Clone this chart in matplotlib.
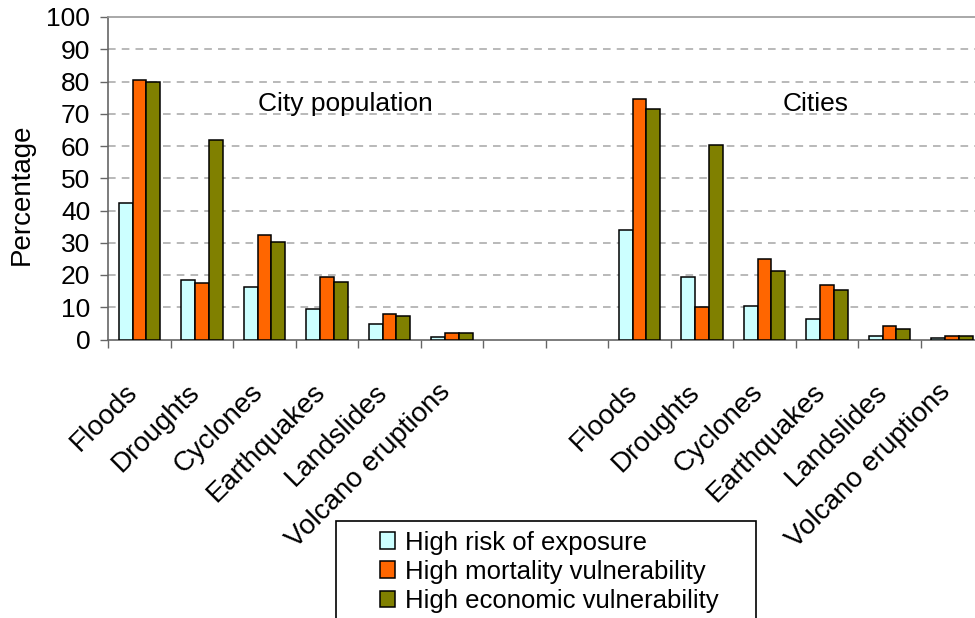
import matplotlib
matplotlib.use("Agg")
import matplotlib.pyplot as plt
from matplotlib.patches import Rectangle
from matplotlib.transforms import ScaledTranslation
import numpy as np

plt.rcParams['font.family'] = ['Liberation Sans', 'DejaVu Sans']

hazards = ["Floods", "Droughts", "Cyclones", "Earthquakes", "Landslides", "Volcano eruptions"]
series_names = ["High risk of exposure", "High mortality vulnerability", "High economic vulnerability"]

# City population (%)
pop_exposure = [42.3, 18.5, 16.3, 9.5, 4.7, 0.9]
pop_mortality = [80.5, 17.4, 32.3, 19.5, 7.9, 2.1]
pop_economic = [80.0, 62.0, 30.1, 17.9, 7.4, 2.1]

# Cities (%)
city_exposure = [33.8, 19.5, 10.5, 6.4, 1.0, 0.5]
city_mortality = [74.7, 10.0, 24.9, 16.8, 4.1, 1.0]
city_economic = [71.6, 60.4, 21.2, 15.4, 3.2, 1.0]

colors = ["#CCFFFF", "#FF6600", "#808000"]

W, H = 975, 618
fig = plt.figure(figsize=(W / 100, H / 100), dpi=100)
ax = fig.add_axes([108.3 / W, (H - 339.5) / H, 875 / W, (339.5 - 17) / H])

n_gap = 2
pos_pop = np.arange(len(hazards))
pos_city = np.arange(len(hazards)) + len(hazards) + n_gap
bw = 0.222

pop_series = [pop_exposure, pop_mortality, pop_economic]
city_series = [city_exposure, city_mortality, city_economic]
for k in range(3):
    off = (k - 1) * bw
    ax.bar(pos_pop + off, pop_series[k], width=bw, color=colors[k],
           edgecolor="black", linewidth=1.1, label=series_names[k], zorder=3)
    ax.bar(pos_city + off, city_series[k], width=bw, color=colors[k],
           edgecolor="black", linewidth=1.1, zorder=3)

n_slots = 2 * len(hazards) + n_gap
ax.set_xlim(-0.5, n_slots - 0.5)
ax.set_ylim(0, 100)

# Category boundary ticks, labels at category centres
ax.set_xticks(np.arange(n_slots + 1) - 0.5)
ax.set_xticklabels([])
ax.tick_params(axis="x", which="major", direction="out", length=6, width=1, color="#666666")
ax.set_xticks(np.concatenate([pos_pop, pos_city]), minor=True)
ax.set_xticklabels(hazards + hazards, minor=True, rotation=45, ha="right",
                   va="center", rotation_mode="anchor", fontsize=20)
ax.tick_params(axis="x", which="minor", length=0, pad=35)
shift = ScaledTranslation(-6 / 100, 0, fig.dpi_scale_trans)
for lbl in ax.get_xticklabels(minor=True):
    lbl.set_transform(lbl.get_transform() + shift)

ax.set_yticks(np.arange(0, 101, 10))
ax.tick_params(axis="y", direction="out", length=6, width=1, color="#666666",
               labelsize=19, pad=7)

for y in range(10, 100, 10):
    ax.axhline(y, color="#A6A6A6", linestyle=(0, (5, 4)), linewidth=1.1, zorder=1)

for side in ["left", "bottom", "top"]:
    ax.spines[side].set_color("#666666")
    ax.spines[side].set_linewidth(1.2)
ax.spines["top"].set_color("#999999")
ax.spines["right"].set_visible(False)

fig.text(22 / W, (H - 194) / H, "Percentage", fontsize=20, rotation=90,
         ha="center", va="center")

ax.text(3.30, 73, "City population", fontsize=19, ha="center", va="center", zorder=4)
ax.text(10.815, 73, "Cities", fontsize=19, ha="center", va="center", zorder=4)

# Legend frame and entries
fig.patches.append(Rectangle((336 / W, (H - 640) / H), (756 - 336) / W, (640 - 521) / H,
                             transform=fig.transFigure, facecolor="white",
                             edgecolor="black", linewidth=1.2, zorder=5))
leg = fig.legend(loc="upper left", bbox_to_anchor=(359 / W, (H - 510) / H),
                 frameon=False, fontsize=18.5, handlelength=0.6, handleheight=0.6,
                 handletextpad=0.4, labelspacing=0.2, borderpad=0.3)
leg.set_zorder(6)

fig.savefig("out.png", dpi=100)
